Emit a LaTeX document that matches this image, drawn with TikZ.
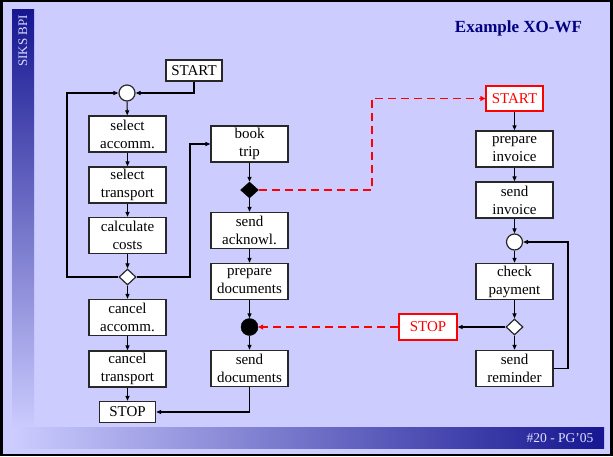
\documentclass[tikz,border=0pt]{standalone}
\usepackage{fontspec}
\setmainfont{Liberation Serif}
\usetikzlibrary{arrows.meta,shapes.geometric}
\definecolor{slidebg}{RGB}{204,204,255}
\definecolor{darkbar}{RGB}{22,22,145}
\definecolor{titleblue}{RGB}{0,0,128}
\definecolor{boxline}{RGB}{40,40,40}
\tikzset{
  wbox/.style={draw=boxline,line width=1.3pt,fill=white,minimum width=77pt,minimum height=36pt,inner sep=0pt,align=center,font=\fontsize{15}{18}\selectfont},
  tbox/.style={draw=boxline,line width=1.3pt,fill=white,minimum width=56pt,minimum height=21pt,inner sep=0pt,font=\fontsize{15}{18}\selectfont},
  rbox/.style={draw=red,line width=1.3pt,fill=white,text=red,minimum width=57pt,minimum height=25pt,inner sep=0pt,font=\fontsize{15}{18}\selectfont},
  orsplit/.style={circle,draw=boxline,line width=1.2pt,fill=white,minimum size=16pt,inner sep=0pt},
  andsplit/.style={circle,draw=black,fill=black,minimum size=17pt,inner sep=0pt},
  xdia/.style={diamond,draw=boxline,line width=1.2pt,fill=white,minimum width=17pt,minimum height=16pt,inner sep=0pt},
  bdia/.style={diamond,draw=black,fill=black,minimum width=18pt,minimum height=16pt,inner sep=0pt},
  arr/.style={draw=black,line width=1.1pt,-{Triangle[length=5pt,width=4pt]}},
  rarr/.style={draw=red,line width=1.9pt,dash pattern=on 8pt off 5pt,-{Triangle[length=5pt,width=5pt]}},
}
\begin{document}
\begin{tikzpicture}[x=1pt,y=-1pt]
\useasboundingbox (0,0) rectangle (613,456);
% slide
\fill[black] (0,0) rectangle (613,456);
\fill[slidebg] (3,2) rectangle (610,454);
\shade[top color=darkbar,bottom color=slidebg] (12,9) rectangle (34,430);
\shade[left color=slidebg,right color=darkbar] (12,427) rectangle (604,448);
\node[rotate=90,text=slidebg!70!white,font=\fontsize{13}{15}\selectfont] (siks) at (23,41) {SIKS BPI};
\node[text=titleblue,font=\fontsize{17}{20}\bfseries\selectfont] (title) at (518.5,28) {Example XO-WF};
\node[text=slidebg!60!white,font=\fontsize{13.5}{15}\selectfont,anchor=east] (foot) at (597,438) {\#20 - PG’05};

% left column
\node[tbox] (start1) at (194,70.5) {START};
\node[orsplit] (c1) at (127,93) {};
\node[wbox] (sa) at (127.5,134) {select\\accomm.};
\node[wbox] (st) at (127.5,185) {select\\transport};
\node[wbox] (cc) at (127.5,235.5) {calculate\\costs};
\node[xdia] (d1) at (127.5,277) {};
\node[wbox] (ca) at (127.5,317.5) {cancel\\accomm.};
\node[wbox] (ct) at (127.5,369) {cancel\\transport};
\node[tbox] (stop1) at (127.5,412) {STOP};
\coordinate (loopL) at (67,277);
\coordinate (loopR) at (190,277);

% middle column
\node[wbox] (bt) at (249.5,144) {book\\trip};
\node[bdia] (bd) at (249.5,190) {};
\node[wbox] (sak) at (249.5,230.5) {send\\acknowl.};
\node[wbox] (pd) at (249.5,281.5) {prepare\\documents};
\node[andsplit] (bc) at (249.5,327) {};
\node[wbox] (sd) at (249.5,368.5) {send\\documents};

% right column
\node[rbox] (start2) at (514.5,98.5) {START};
\node[wbox] (pi) at (514.5,149) {prepare\\invoice};
\node[wbox] (si) at (514.5,200) {send\\invoice};
\node[orsplit] (c2) at (514.5,242) {};
\node[wbox] (cp) at (514.5,281.5) {check\\payment};
\node[xdia] (d2) at (514.5,327) {};
\node[wbox] (sr) at (514.5,368.5) {send\\reminder};
\node[rbox,minimum width=58pt,minimum height=26pt] (stop2) at (428,327) {STOP};
\coordinate (redcorner) at (372,190);
\coordinate (loopR2) at (568,368.5);

% connectors left
\draw[arr] (start1.south) |- (c1.east);
\draw[arr] (d1.west) -- (loopL) |- (c1.west);
\draw[arr] (c1) -- (sa);
\draw[arr] (sa) -- (st);
\draw[arr] (st) -- (cc);
\draw[arr] (cc) -- (d1);
\draw[arr] (d1) -- (ca);
\draw[arr] (ca) -- (ct);
\draw[arr] (ct) -- (stop1);
\draw[arr] (d1.east) -- (loopR) |- (bt.west);
% connectors middle
\draw[arr] (bt) -- (bd);
\draw[arr] (bd) -- (sak);
\draw[arr] (sak) -- (pd);
\draw[arr] (pd) -- (bc);
\draw[arr] (bc) -- (sd);
\draw[arr] (sd.south) |- (stop1.east);
% connectors right
\draw[arr] (start2) -- (pi);
\draw[arr] (pi) -- (si);
\draw[arr] (si) -- (c2);
\draw[arr] (c2) -- (cp);
\draw[arr] (cp) -- (d2);
\draw[arr] (d2) -- (sr);
\draw[arr] (d2.west) -- (stop2.east);
\draw[arr] (sr.east) -- (loopR2) |- (c2.east);
% red dashed
\draw[rarr] (bd.east) -- (redcorner) |- (start2.west);
\draw[rarr] (stop2.west) -- (bc.east);
\end{tikzpicture}
\end{document}
